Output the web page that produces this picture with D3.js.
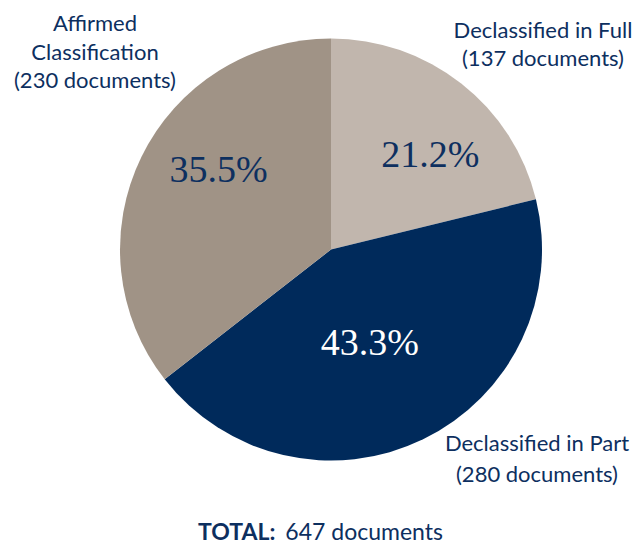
<!DOCTYPE html>
<html><head><meta charset="utf-8">
<script src="https://cdn.jsdelivr.net/npm/d3@7"></script>
<style>html,body{margin:0;padding:0;background:#fff;}svg{display:block;}</style>
</head><body>
<svg id="chart" width="640" height="547"></svg>
<script>
const categories = ["Declassified in Full", "Declassified in Part", "Affirmed Classification"];
const values = [137, 280, 230];
const colors = ["#c1b6ad", "#002a5b", "#a09386"];
const pctColors = ["#0d2f5f", "#ffffff", "#0d2f5f"];
const labelLines = [
  ["Declassified in Full", "(137 documents)"],
  ["Declassified in Part", "(280 documents)"],
  ["Affirmed", "Classification", "(230 documents)"]
];
const totalLabel = "TOTAL:";
const totalText = "647 documents";

const svg = d3.select("#chart");
const cx = 331, cy = 249.5, R = 211;
const total = d3.sum(values);

const pie = d3.pie().sort(null).value(d => d)(values);
const arc = d3.arc().innerRadius(0).outerRadius(R);
const g = svg.append("g").attr("transform", `translate(${cx},${cy})`);
g.selectAll("path").data(pie).enter().append("path")
  .attr("d", arc).attr("fill", (d, i) => colors[i]);

// percentage labels (polar placement: angle offset from slice middle, radius fraction)
const pctAdj = [[7.8, 0.655], [3, 0.472], [9.6, 0.655]];
g.selectAll("text.pct").data(pie).enter().append("text")
  .attr("class", "pct")
  .attr("x", (d, i) => { const a = (d.startAngle + d.endAngle) / 2 + pctAdj[i][0] * Math.PI / 180; return Math.sin(a) * R * pctAdj[i][1]; })
  .attr("y", (d, i) => { const a = (d.startAngle + d.endAngle) / 2 + pctAdj[i][0] * Math.PI / 180; return -Math.cos(a) * R * pctAdj[i][1]; })
  .attr("dy", "0.35em")
  .attr("text-anchor", "middle")
  .attr("font-family", "'Liberation Serif', 'Times New Roman', serif")
  .attr("font-size", 38)
  .attr("fill", (d, i) => pctColors[i])
  .text(d => (d.value / total * 100).toFixed(1) + "%");

// outer labels
const labelPos = [[543, 38], [537, 451], [95, 31]];
const lh = [27.5, 30.5, 28.5];
labelLines.forEach((lines, i) => {
  const t = svg.append("text")
    .attr("text-anchor", "middle")
    .attr("font-family", "Lato, 'Open Sans', sans-serif")
    .attr("font-size", 22)
    .attr("fill", "#0d2f5f");
  lines.forEach((l, j) => {
    t.append("tspan").attr("x", labelPos[i][0]).attr("y", labelPos[i][1] + j * lh[i]).text(l);
  });
});

const tt = svg.append("text")
  .attr("x", 320.5).attr("y", 540)
  .attr("text-anchor", "middle")
  .attr("font-family", "Lato, 'Open Sans', sans-serif")
  .attr("font-size", 23)
  .attr("fill", "#0d2f5f");
tt.append("tspan").attr("font-weight", "bold").text(totalLabel);
tt.append("tspan").attr("dx", 10).text(totalText);
</script>
</body></html>
